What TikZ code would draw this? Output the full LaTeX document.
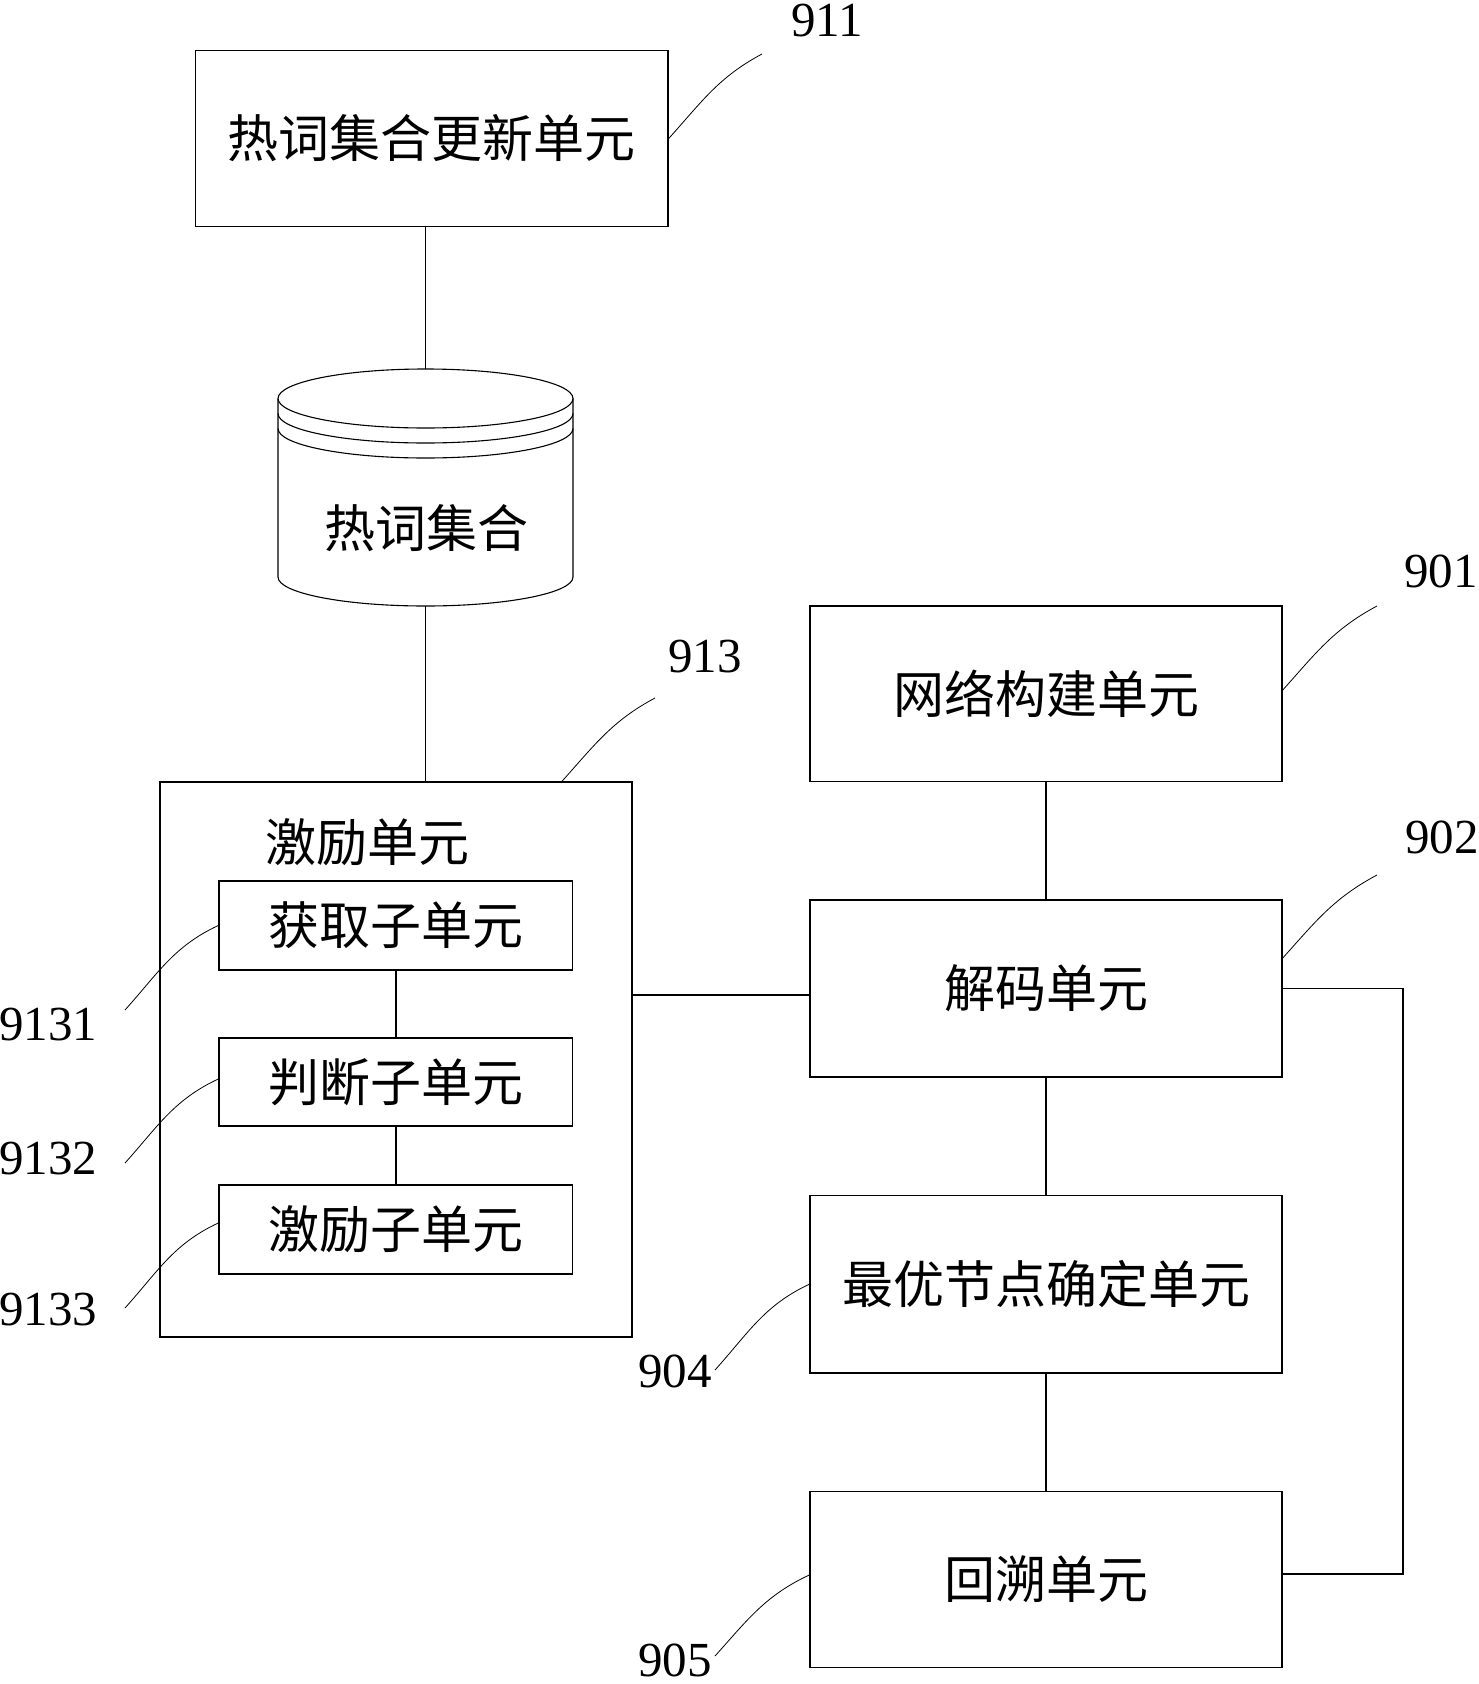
\documentclass[tikz,border=0pt]{standalone}
\usepackage{fontspec}
\setmainfont{Liberation Serif}
\newfontfamily\cjk{Noto Sans CJK SC}
\begin{document}
\begin{tikzpicture}[x=1pt,y=1pt]
\tikzset{
  blk/.style={draw,line width=1.5pt,inner sep=0pt,font=\cjk\fontsize{51}{60}\selectfont},
  cjktxt/.style={inner sep=0pt,font=\cjk\fontsize{51}{60}\selectfont},
  conn/.style={line width=1.5pt},
  lead/.style={line width=0.8pt},
  cyl/.style={line width=1.1pt},
  num/.style={inner sep=0pt,font=\fontsize{49}{56}\selectfont}
}
\useasboundingbox (0,0) rectangle (1478,-1684);

% boxes
\node[blk,minimum width=472.5pt,minimum height=176pt] (b911) at (431.75,-138.5) {热词集合更新单元};
\node[inner sep=0pt,minimum width=295pt,minimum height=237pt] (hs) at (425.5,-487.5) {};
\node[blk,minimum width=472pt,minimum height=555pt] (b913) at (396,-1059.5) {};
\node[cjktxt] (t913) at (367,-842) {激励单元};
\node[blk,minimum width=353.5pt,minimum height=89pt] (s1) at (395.75,-925.5) {获取子单元};
\node[blk,minimum width=353.5pt,minimum height=88pt] (s2) at (395.75,-1082) {判断子单元};
\node[blk,minimum width=353.5pt,minimum height=89pt] (s3) at (395.75,-1229.5) {激励子单元};
\node[blk,minimum width=472pt,minimum height=175.5pt] (b901) at (1046,-693.75) {网络构建单元};
\node[blk,minimum width=472pt,minimum height=177pt] (b902) at (1046,-988.5) {解码单元};
\node[blk,minimum width=472pt,minimum height=177.5pt] (b904) at (1046,-1284.25) {最优节点确定单元};
\node[blk,minimum width=472pt,minimum height=176pt] (b905) at (1046,-1579.5) {回溯单元};

% cylinder
\draw[cyl] (278,-398.5) -- (278,-577) arc[start angle=180,end angle=360,x radius=147.5,y radius=29] -- (573,-398.5);
\draw[cyl] (425.5,-398.5) ellipse[x radius=147.5,y radius=29.5];
\draw[cyl] (278,-413.5) arc[start angle=180,end angle=360,x radius=147.5,y radius=29.5];
\draw[cyl] (278,-428.5) arc[start angle=180,end angle=360,x radius=147.5,y radius=29.5];
\node[cjktxt] (hstext) at (426,-528) {热词集合};

% connectors
\draw[conn] (hs.north) -- (hs.north |- b911.south);
\draw[conn] (hs.south) -- (hs.south |- b913.north);
\draw[conn] (s1.south) -- (s2.north);
\draw[conn] (s2.south) -- (s3.north);
\draw[conn] (b901.south) -- (b902.north);
\draw[conn] (b902.south) -- (b904.north);
\draw[conn] (b904.south) -- (b905.north);
\coordinate (h902) at ([yshift=-6.5pt]b902.west);
\draw[conn] (b913.east |- h902) -- (h902);
\coordinate (r905) at ([yshift=5.5pt]b905.east);
\draw[conn] (b902.east) -- ++(120,0) |- (r905);

% numbers
\node[num] (n911) at (827,-21) {911};
\node[num] (n913) at (705,-657) {913};
\node[num] (n901) at (1441,-571) {901};
\node[num] (n902) at (1442,-837) {902};
\node[num] (n9131) at (48,-1025) {9131};
\node[num] (n9132) at (48,-1159) {9132};
\node[num] (n9133) at (48,-1310) {9133};
\node[num] (n904) at (675,-1371) {904};
\node[num] (n905) at (675,-1660) {905};

% leader ends
\coordinate (e911) at (762,-54);
\coordinate (e913) at (655,-698);
\coordinate (e901) at (1377,-606);
\coordinate (e902) at (1377,-875);
\coordinate (e9131) at (125,-1010);
\coordinate (e9132) at (125,-1163);
\coordinate (e9133) at (125,-1308);
\coordinate (e904) at (715,-1370);
\coordinate (e905) at (715,-1656);

% leaders
\draw[lead] (b911.east) to[out=48,in=208] (e911);
\draw[lead] ([xshift=166pt]b913.north) to[out=48,in=208] (e913);
\draw[lead] ([yshift=3.75pt]b901.east) to[out=48,in=208] (e901);
\draw[lead] ([yshift=30.5pt]b902.east) to[out=48,in=208] (e902);
\draw[lead] (e9131) to[out=48,in=205] (s1.west);
\draw[lead] (e9132) to[out=48,in=205] ([yshift=3pt]s2.west);
\draw[lead] (e9133) to[out=48,in=205] ([yshift=6.5pt]s3.west);
\draw[lead] (e904) to[out=48,in=205] (b904.west);
\draw[lead] (e905) to[out=48,in=205] ([yshift=4.5pt]b905.west);
\end{tikzpicture}
\end{document}
